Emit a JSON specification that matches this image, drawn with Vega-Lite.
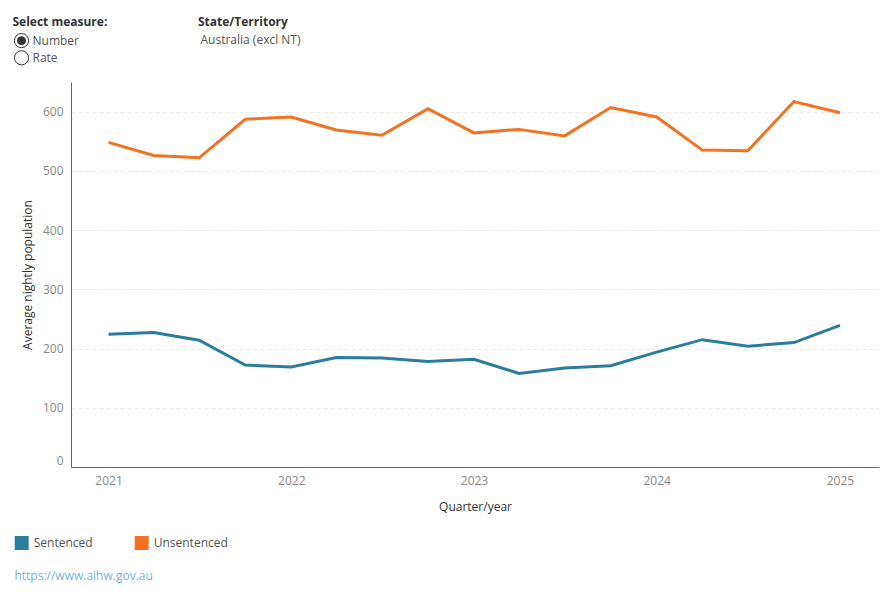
{
  "$schema": "https://vega.github.io/schema/vega-lite/v6.json",
  "padding": {"left": 12, "top": 15, "right": 5, "bottom": 5},
  "background": "white",
  "config": {
    "font": "Open Sans",
    "view": {"stroke": null}
  },
  "title": {
    "text": "https://www.aihw.gov.au",
    "orient": "bottom",
    "anchor": "start",
    "font": "Open Sans",
    "fontSize": 12,
    "fontWeight": "normal",
    "color": "#79b4d8",
    "offset": 19,
    "dx": 2
  },
  "spacing": 15,
  "resolve": {"scale": {"color": "independent"}},
  "vconcat": [
    {
      "spacing": 90,
      "hconcat": [
        {
          "title": {"text": "Select measure:", "anchor": "start", "font": "Open Sans", "fontSize": 12, "fontWeight": "bold", "color": "#333333", "offset": 3},
          "width": 17,
          "height": 34.4,
          "data": {"values": [
            {"option": "Number", "selected": true},
            {"option": "Rate", "selected": false}
          ]},
          "encoding": {
            "y": {"field": "option", "type": "nominal", "sort": null, "scale": {"type": "point", "padding": 0.5}, "axis": null}
          },
          "layer": [
            {"mark": {"type": "point", "shape": "circle", "size": 200, "filled": true, "fill": "white", "stroke": "#333333", "strokeWidth": 1, "opacity": 1}},
            {"transform": [{"filter": "datum.selected"}],
             "mark": {"type": "point", "shape": "circle", "size": 80, "filled": true, "color": "#333333", "opacity": 1}},
            {"mark": {"type": "text", "align": "left", "baseline": "middle", "dx": 11, "fontSize": 12, "color": "#555555"},
             "encoding": {"text": {"field": "option"}}}
          ]
        },
        {
          "title": {"text": "State/Territory", "anchor": "start", "font": "Open Sans", "fontSize": 12, "fontWeight": "bold", "color": "#333333", "offset": 3},
          "width": 1,
          "height": 16.2,
          "data": {"values": [{"state": "Australia (excl NT)"}]},
          "mark": {"type": "text", "align": "left", "baseline": "middle", "dx": 2, "fontSize": 12, "color": "#555555"},
          "encoding": {"text": {"field": "state"}}
        }
      ]
    },
    {
      "resolve": {"scale": {"color": "independent"}},
      "spacing": -2,
      "hconcat": [
        {
          "width": 1,
          "height": 1,
          "data": {"values": []},
          "mark": {"type": "point", "opacity": 0}
        },
        {
          "width": 808,
          "height": 385,
          "data": {"values": [
            {"quarter": "2021-01-01", "status": "Sentenced", "population": 224},
            {"quarter": "2021-04-01", "status": "Sentenced", "population": 227},
            {"quarter": "2021-07-01", "status": "Sentenced", "population": 214},
            {"quarter": "2021-10-01", "status": "Sentenced", "population": 172},
            {"quarter": "2022-01-01", "status": "Sentenced", "population": 169},
            {"quarter": "2022-04-01", "status": "Sentenced", "population": 185},
            {"quarter": "2022-07-01", "status": "Sentenced", "population": 184},
            {"quarter": "2022-10-01", "status": "Sentenced", "population": 178},
            {"quarter": "2023-01-01", "status": "Sentenced", "population": 182},
            {"quarter": "2023-04-01", "status": "Sentenced", "population": 158},
            {"quarter": "2023-07-01", "status": "Sentenced", "population": 167},
            {"quarter": "2023-10-01", "status": "Sentenced", "population": 171},
            {"quarter": "2024-01-01", "status": "Sentenced", "population": 194},
            {"quarter": "2024-04-01", "status": "Sentenced", "population": 215},
            {"quarter": "2024-07-01", "status": "Sentenced", "population": 204},
            {"quarter": "2024-10-01", "status": "Sentenced", "population": 210},
            {"quarter": "2025-01-01", "status": "Sentenced", "population": 239},
            {"quarter": "2021-01-01", "status": "Unsentenced", "population": 548},
            {"quarter": "2021-04-01", "status": "Unsentenced", "population": 526},
            {"quarter": "2021-07-01", "status": "Unsentenced", "population": 522},
            {"quarter": "2021-10-01", "status": "Unsentenced", "population": 587},
            {"quarter": "2022-01-01", "status": "Unsentenced", "population": 591},
            {"quarter": "2022-04-01", "status": "Unsentenced", "population": 569},
            {"quarter": "2022-07-01", "status": "Unsentenced", "population": 560},
            {"quarter": "2022-10-01", "status": "Unsentenced", "population": 605},
            {"quarter": "2023-01-01", "status": "Unsentenced", "population": 564},
            {"quarter": "2023-04-01", "status": "Unsentenced", "population": 570},
            {"quarter": "2023-07-01", "status": "Unsentenced", "population": 559},
            {"quarter": "2023-10-01", "status": "Unsentenced", "population": 607},
            {"quarter": "2024-01-01", "status": "Unsentenced", "population": 591},
            {"quarter": "2024-04-01", "status": "Unsentenced", "population": 535},
            {"quarter": "2024-07-01", "status": "Unsentenced", "population": 534},
            {"quarter": "2024-10-01", "status": "Unsentenced", "population": 617},
            {"quarter": "2025-01-01", "status": "Unsentenced", "population": 598}
          ]},
          "mark": {"type": "line", "strokeWidth": 3, "interpolate": "linear"},
          "encoding": {
            "x": {
              "field": "quarter",
              "type": "temporal",
              "scale": {
                "type": "utc",
                "domain": [
                  {"year": 2020, "month": "oct", "date": 18, "utc": true},
                  {"year": 2025, "month": "mar", "date": 20, "utc": true}
                ]
              },
              "axis": {
                "title": "Quarter/year",
                "values": [
                  {"year": 2021, "utc": true},
                  {"year": 2022, "utc": true},
                  {"year": 2023, "utc": true},
                  {"year": 2024, "utc": true},
                  {"year": 2025, "utc": true}
                ],
                "labelExpr": "utcFormat(datum.value, '%Y')",
                "grid": false,
                "ticks": false,
                "domainColor": "#666666",
                "labelColor": "#888888",
                "labelFontSize": 12,
                "labelPadding": 8,
                "titleColor": "#333333",
                "titleFontSize": 12,
                "titleFontWeight": "normal",
                "titlePadding": 15
              }
            },
            "y": {
              "field": "population",
              "type": "quantitative",
              "scale": {"domain": [0, 650], "nice": false},
              "axis": {
                "title": "Average nightly population",
                "values": [0, 100, 200, 300, 400, 500, 600],
                "labelFlush": true,
                "ticks": false,
                "domainColor": "#666666",
                "gridColor": "#ebebeb",
                "gridDash": [4, 3],
                "labelColor": "#888888",
                "labelFontSize": 12,
                "labelPadding": 8,
                "titleColor": "#333333",
                "titleFontSize": 12,
                "titleFontWeight": "normal",
                "titlePadding": 8
              }
            },
            "color": {
              "field": "status",
              "type": "nominal",
              "scale": {"domain": ["Sentenced", "Unsentenced"], "range": ["#2b7e9b", "#f4711f"]},
              "legend": {
                "title": null,
                "orient": "none",
                "legendX": -58.3,
                "legendY": 452,
                "direction": "horizontal",
                "symbolType": "square",
                "symbolSize": 196,
                "symbolStrokeWidth": 0,
                "labelFontSize": 12,
                "labelColor": "#555555",
                "labelOffset": 5,
                "columnPadding": 42,
                "padding": 2,
                "encode": {
                  "symbols": {"update": {"fill": {"signal": "datum.value === 'Sentenced' ? '#2b7e9b' : '#f4711f'"}, "opacity": {"value": 1}}}
                }
              }
            }
          }
        }
      ]
    }
  ]
}
